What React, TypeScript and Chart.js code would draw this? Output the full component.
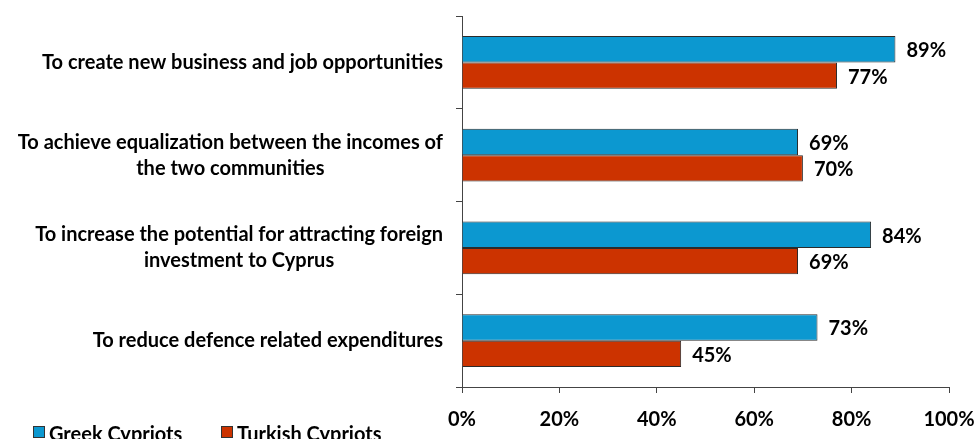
import React, { useEffect, useRef } from "react";
import { Chart, registerables } from "chart.js";

Chart.register(...registerables);

const categories: string[][] = [
  ["To create new business and job opportunities"],
  ["To achieve equalization between the incomes of", "the two communities"],
  ["To increase the potential for attracting foreign", "investment to Cyprus"],
  ["To reduce defence related expenditures"],
];
const greekValues = [89, 69, 84, 73];
const turkishValues = [77, 70, 69, 45];
const xTicks = [0, 20, 40, 60, 80, 100];
const seriesNames = ["Greek Cypriots", "Turkish Cypriots"];

const BLUE = "#0c98d0";
const RED = "#cc3300";
const FONT = "Lato";

const labelPlugin = {
  id: "customLabels",
  afterDraw(chart: any) {
    const ctx = chart.ctx;
    const y = chart.scales.y;
    const area = chart.chartArea;
    ctx.save();
    ctx.fillStyle = "#000";
    ctx.font = `bold 20px ${FONT}`;
    ctx.textBaseline = "middle";
    ctx.textAlign = "center";
    const lineH = 26;
    categories.forEach((lines, i) => {
      const cy = y.getPixelForValue(i);
      const w = Math.max(...lines.map((l) => ctx.measureText(l).width));
      const cx = area.left - 19 - w / 2;
      const startY = cy - ((lines.length - 1) * lineH) / 2;
      lines.forEach((l, j) => ctx.fillText(l, cx, startY + j * lineH));
    });
    // data labels
    ctx.textAlign = "left";
    chart.data.datasets.forEach((ds: any, di: number) => {
      const meta = chart.getDatasetMeta(di);
      meta.data.forEach((bar: any, i: number) => {
        ctx.fillText(ds.data[i] + "%", bar.x + 11, bar.y + 1.5);
      });
    });
    // legend
    const items = [
      { x: 33, color: BLUE, text: seriesNames[0] },
      { x: 221, color: RED, text: seriesNames[1] },
    ];
    ctx.textBaseline = "alphabetic";
    items.forEach((it) => {
      ctx.fillStyle = it.color;
      ctx.fillRect(it.x, 426, 12, 12);
      ctx.strokeStyle = "#333";
      ctx.lineWidth = 1;
      ctx.strokeRect(it.x + 0.5, 426.5, 11, 11);
      ctx.fillStyle = "#000";
      ctx.fillText(it.text, it.x + 16, 441);
    });
    ctx.restore();
  },
};

export default function App() {
  const ref = useRef<HTMLCanvasElement>(null);
  useEffect(() => {
    if (!ref.current) return;
    const chart = new Chart(ref.current, {
      type: "bar",
      data: {
        labels: categories.map((c) => c.join(" ")),
        datasets: [
          {
            label: seriesNames[0],
            data: greekValues,
            backgroundColor: BLUE,
            borderColor: "#2b2b2b",
            borderWidth: 1,
          },
          {
            label: seriesNames[1],
            data: turkishValues,
            backgroundColor: RED,
            borderColor: "#2b2b2b",
            borderWidth: 1,
          },
        ],
      },
      plugins: [labelPlugin],
      options: {
        indexAxis: "y",
        animation: false,
        responsive: false,
        maintainAspectRatio: false,
        layout: { padding: { left: 462, top: 16, right: 27, bottom: 0 } },
        datasets: { bar: { categoryPercentage: 0.57, barPercentage: 1 } },
        plugins: { legend: { display: false }, tooltip: { enabled: false } },
        scales: {
          x: {
            min: 0,
            max: 100,
            afterBuildTicks: (axis: any) => {
              axis.ticks = xTicks.map((v) => ({ value: v }));
            },
            ticks: {
              callback: (v: any) => v + "%",
              color: "#000",
              font: { family: FONT, size: 20, weight: "bold" },
              padding: 15,
              maxRotation: 0,
            },
            grid: { drawOnChartArea: false, drawTicks: true, tickLength: 6, color: "#444" },
            border: { display: true, color: "#444", width: 1 },
            afterFit: (axis: any) => {
              axis.height = 52;
              axis.paddingRight = 0;
              axis.paddingLeft = 0;
            },
          },
          y: {
            ticks: { display: false },
            grid: { drawOnChartArea: false, drawTicks: true, tickLength: 6, color: "#444", offset: true },
            border: { display: true, color: "#444", width: 1 },
            afterFit: (axis: any) => {
              axis.width = 0;
              axis.paddingTop = 0;
              axis.paddingBottom = 0;
            },
          },
        },
      },
    });
    return () => chart.destroy();
  }, []);
  return (
    <div style={{ position: "fixed", left: 0, top: 0, width: 976, height: 439, background: "#fff" }}>
      <canvas ref={ref} width={976} height={439} style={{ width: 976, height: 439 }} />
    </div>
  );
}
